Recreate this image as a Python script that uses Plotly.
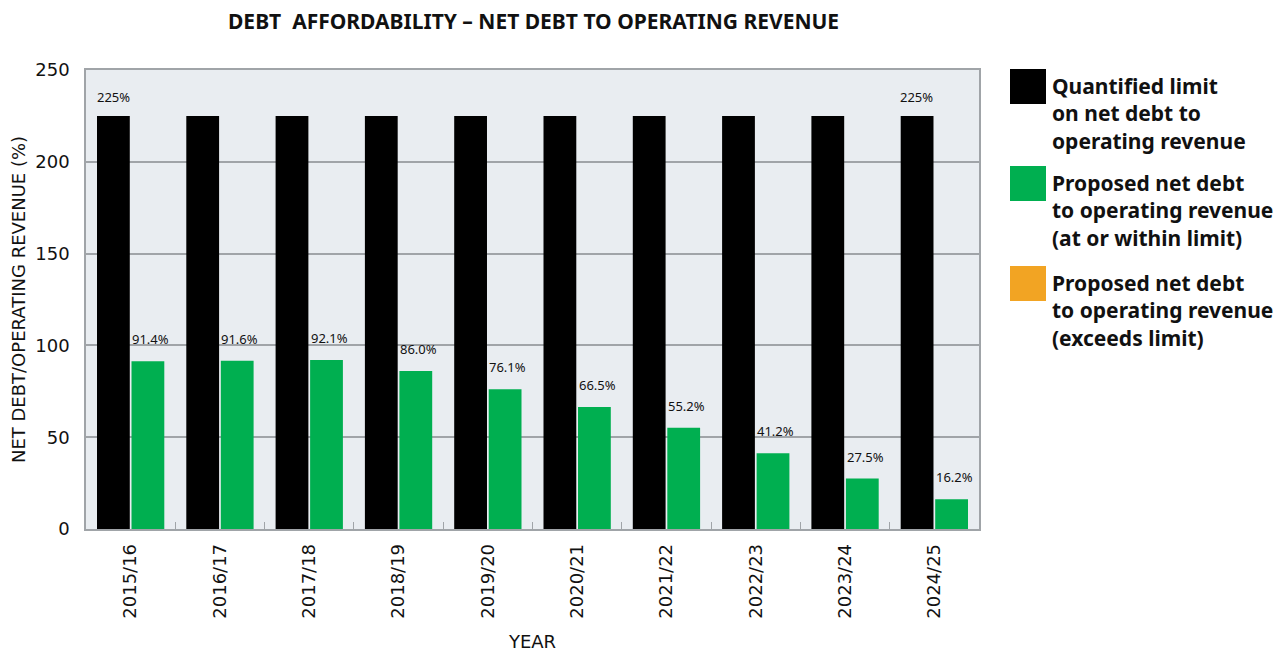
import plotly.graph_objects as go

years = ["2015/16", "2016/17", "2017/18", "2018/19", "2019/20",
         "2020/21", "2021/22", "2022/23", "2023/24", "2024/25"]
limit = [225, 225, 225, 225, 225, 225, 225, 225, 225, 225]
proposed = [91.4, 91.6, 92.1, 86.0, 76.1, 66.5, 55.2, 41.2, 27.5, 16.2]
limit_labels = ["225%", "", "", "", "", "", "", "", "", "225%"]
proposed_labels = ["91.4%", "91.6%", "92.1%", "86.0%", "76.1%",
                   "66.5%", "55.2%", "41.2%", "27.5%", "16.2%"]
legend_names = ["Quantified limit<br>on net debt to<br>operating revenue",
                "Proposed net debt<br>to operating revenue<br>(at or within limit)",
                "Proposed net debt<br>to operating revenue<br>(exceeds limit)"]
legend_colors = ["#000000", "#00AF50", "#F2A423"]
title_text = "DEBT  AFFORDABILITY – NET DEBT TO OPERATING REVENUE"

# page body has an 8px margin: figure coordinates = reference pixel - 8
OFF = 8
W, H = 1288 - OFF, 652 - OFF
PL, PR, PT, PB = 86 - OFF, 979 - OFF, 70 - OFF, 529 - OFF   # plot area in fig px
PW, PH = PR - PL, PB - PT


def px(xr):
    return (xr - OFF - PL) / PW


def py(yr):
    return (PB - (yr - OFF)) / PH


AX_FONT = dict(family="DejaVu Sans", size=18, color="#111")
LBL_FONT = dict(family="Noto Sans", size=13, color="#111")

fig = go.Figure()
fig.add_trace(go.Bar(x=years, y=limit, marker_color="#000000",
                     marker_line_width=0, showlegend=False))
fig.add_trace(go.Bar(x=years, y=proposed, marker_color="#00AF50",
                     marker_line_width=0, showlegend=False))

ann = []
for i, (v, t) in enumerate(zip(limit, limit_labels)):
    if t:
        ann.append(dict(x=i, y=v, xref="x", yref="y", text=t, showarrow=False,
                        xshift=-17.5, yshift=19, yanchor="middle", font=LBL_FONT))
for i, (v, t) in enumerate(zip(proposed, proposed_labels)):
    ann.append(dict(x=i, y=v, xref="x", yref="y", text=t, showarrow=False,
                    xshift=20, yshift=22, yanchor="middle", font=LBL_FONT))

shapes = []
sq_top = [69, 166, 266]
for top, name, col in zip(sq_top, legend_names, legend_colors):
    shapes.append(dict(type="rect", xref="paper", yref="paper",
                       x0=px(1010), x1=px(1046), y0=py(top + 35), y1=py(top),
                       fillcolor=col, line_width=0, layer="above"))
    ann.append(dict(x=px(1050), y=py(top + 1), xref="paper", yref="paper",
                    text="<b>" + name + "</b>", showarrow=False,
                    xanchor="left", yanchor="top", align="left",
                    font=dict(family="Noto Sans", size=21, color="#111")))

# chart title as a paper annotation
ann.append(dict(x=px(533), y=py(21), xref="paper", yref="paper",
                text="<b>" + title_text + "</b>", showarrow=False,
                xanchor="center", yanchor="middle",
                font=dict(family="Noto Sans", size=21, color="#111")))

fig.update_layout(
    width=W, height=H,
    margin=dict(l=PL, r=W - PR, t=PT, b=H - PB, autoexpand=False),
    paper_bgcolor="white", plot_bgcolor="#E9EDF1",
    barmode="group", bargap=0.227, bargroupgap=0.05,
    annotations=ann, shapes=shapes,
    xaxis=dict(title=dict(text="YEAR", font=AX_FONT, standoff=24),
               tickangle=-90, tickfont=AX_FONT, ticklabelstandoff=6,
               tickson="boundaries", ticks="inside", ticklen=7, tickcolor="#A0A4A8",
               showgrid=False, showline=True, linecolor="#A0A4A8", linewidth=1.5,
               mirror=True),
    yaxis=dict(title=dict(text="NET DEBT/OPERATING REVENUE (%)", font=AX_FONT, standoff=8),
               range=[0, 250], dtick=50, tickfont=AX_FONT, ticklabelstandoff=11,
               showgrid=True, gridcolor="#A0A4A8", gridwidth=1.5,
               showline=True, linecolor="#A0A4A8", linewidth=1.5, mirror=True,
               ticks="", zeroline=False),
)

fig.write_html("out.html")
